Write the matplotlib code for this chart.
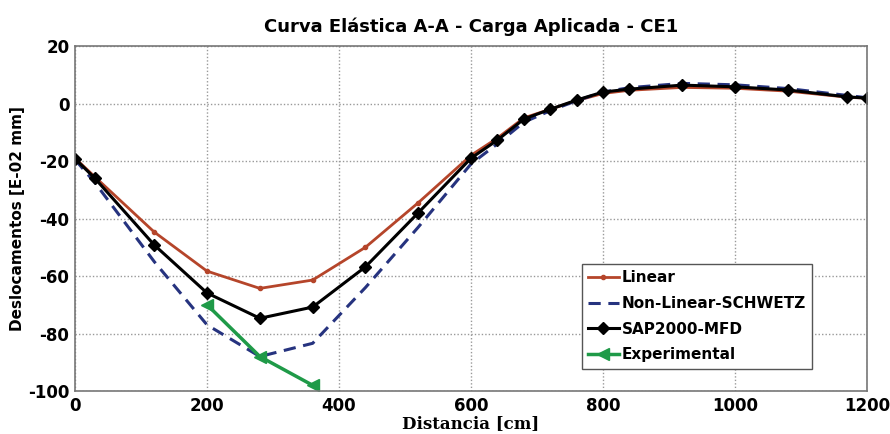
import numpy as np
import matplotlib
matplotlib.use("Agg")
import matplotlib.pyplot as plt

plt.rcParams['axes.unicode_minus'] = False

# distances [cm]
x = [0, 30, 120, 200, 280, 360, 440, 520, 600, 640, 680, 720, 760, 800, 840, 920, 1000, 1080, 1170, 1200]

linear = [-19, -25.5, -44.7, -58.3, -64.3, -61.4, -50, -34.5, -18, -12, -5, -2, 1, 3.5, 4.6, 5.6, 5.3, 4.3, 2.2, 1.8]
non_linear = [-19.5, -27.5, -55, -77, -88, -83.4, -64, -43, -21, -14, -6.5, -2.5, 1, 4, 5.5, 7, 6.5, 5.2, 2.8, 2]
sap2000 = [-19.2, -26, -49.2, -65.9, -74.7, -70.8, -56.8, -38, -19, -12.7, -5.4, -2, 1.2, 4, 5, 6.4, 5.8, 4.7, 2.3, 1.9]

x_exp = [200, 280, 360]
experimental = [-70, -88, -98]

fig = plt.figure(figsize=(8.9, 4.34), dpi=100)
ax = fig.add_axes([0.0843, 0.099, 0.89, 0.795])

ax.plot(x, linear, color='#b5452a', lw=2, marker='o', ms=3, label='Linear')
ax.plot(x, non_linear, color='#26337f', lw=2.2, ls=(0, (4, 2.5)), label='Non-Linear-SCHWETZ')
ax.plot(x, sap2000, color='black', lw=2.2, marker='D', ms=6, label='SAP2000-MFD')
ax.plot(x_exp, experimental, color='#1f9a48', lw=2.5, marker='<', ms=8, label='Experimental')

ax.set_xlim(0, 1200)
ax.set_ylim(-100, 20)
ax.set_xticks(np.arange(0, 1201, 200))
ax.set_yticks(np.arange(-100, 21, 20))
ax.grid(True, ls=(0, (1, 1.5)), color='#999999', lw=1)
for s in ax.spines.values():
    s.set_color('#777777')
    s.set_linewidth(1.2)
ax.tick_params(labelsize=12, length=0, pad=4)
for lbl in ax.get_xticklabels() + ax.get_yticklabels():
    lbl.set_fontweight('bold')

ax.set_title('Curva Elástica A-A - Carga Aplicada - CE1', fontsize=13, fontweight='bold', pad=10)
ax.set_xlabel('Distancia [cm]', fontsize=12, fontweight='bold', family='DejaVu Serif', labelpad=0)
ax.set_ylabel('Deslocamentos [E-02 mm]', fontsize=11, fontweight='bold', labelpad=2)

leg = ax.legend(loc='lower left', bbox_to_anchor=(0.64, 0.065), prop={'weight': 'bold', 'size': 11},
                fancybox=False, edgecolor='#555555', framealpha=1, handlelength=2,
                handletextpad=0.2, borderpad=0.4, labelspacing=0.7, borderaxespad=0)

fig.savefig('out.png', dpi=100)
